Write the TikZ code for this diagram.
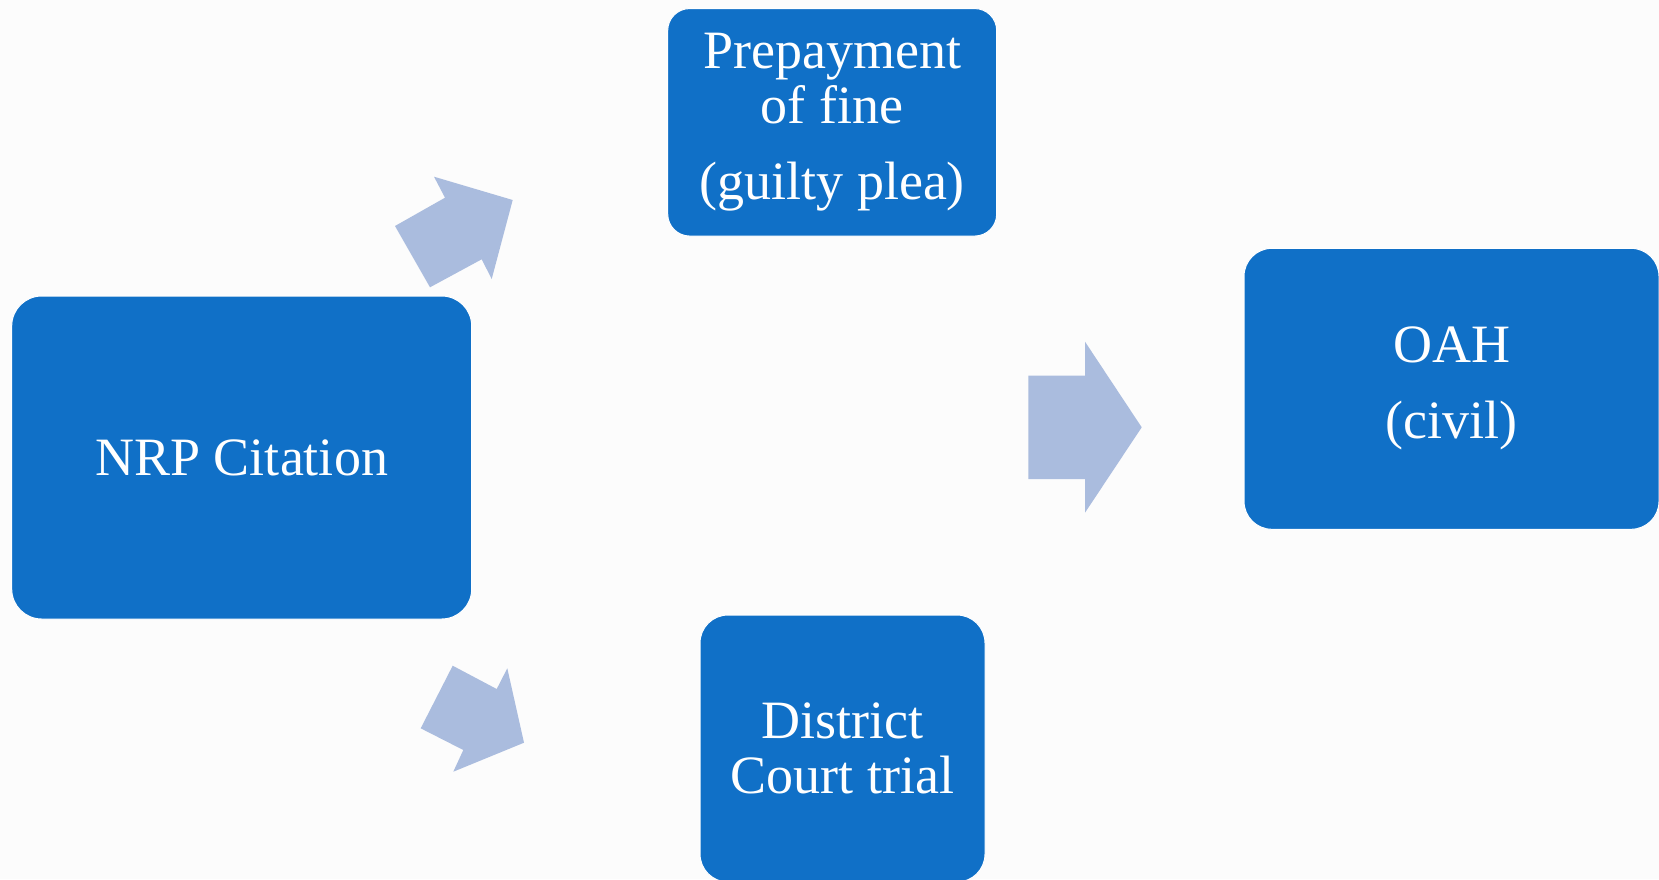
\documentclass[tikz,border=0pt]{standalone}
\usepackage{fontspec}
\setmainfont{Liberation Serif}
\definecolor{boxblue}{RGB}{16,112,199}
\definecolor{arrowblue}{RGB}{170,188,222}
\definecolor{paper}{RGB}{252,252,252}
\begin{document}
\begin{tikzpicture}[x=0.5pt,y=-0.5pt]
          \tikzstyle{stage}=[rectangle,fill=boxblue,draw=white,line width=0.5pt,text=white,align=center,font=\fontsize{27}{27.5}\selectfont,inner sep=0pt]
          \tikzstyle{flow}=[fill=arrowblue]
          \fill[paper] (0,0) rectangle (1659,879);
          \clip (0,0) rectangle (1659,879);
          \begin{scope}
             \node [stage,minimum width=230pt,minimum height=161.5pt,rounded corners=15pt] (citation) at (241.7,457.5) {NRP Citation};
             \node [stage,minimum width=164.5pt,minimum height=113.75pt,rounded corners=11pt] (prepay) at (832.2,122.3) {Prepayment\\of fine\\[10.5pt](guilty plea)};
             \node [stage,minimum width=207.5pt,minimum height=140.5pt,rounded corners=14pt] (oah) at (1451.5,388.8) {OAH\\[10.5pt](civil)};
             \node [stage,minimum width=142.5pt,minimum height=133.5pt,rounded corners=14pt] (court) at (842.5,748.5) {District\\Court trial};
             % block arrows
             \fill[flow] (395,226) -- (445,197.7) -- (434,176.7) -- (512.7,200) -- (491.7,279) -- (481.7,259.3) -- (430,287.3) -- cycle;
             \fill[flow] (452.7,665.7) -- (496.7,689) -- (507.3,668.3) -- (524,742.7) -- (453.3,771.7) -- (463.3,750) -- (420.7,728.3) -- cycle;
             \fill[flow] (1028.3,375.7) -- (1085,375.7) -- (1085,341.7) -- (1141.7,427.3) -- (1085,512.7) -- (1085,479) -- (1028.3,479) -- cycle;
          \end{scope}
        \end{tikzpicture}
\end{document}
